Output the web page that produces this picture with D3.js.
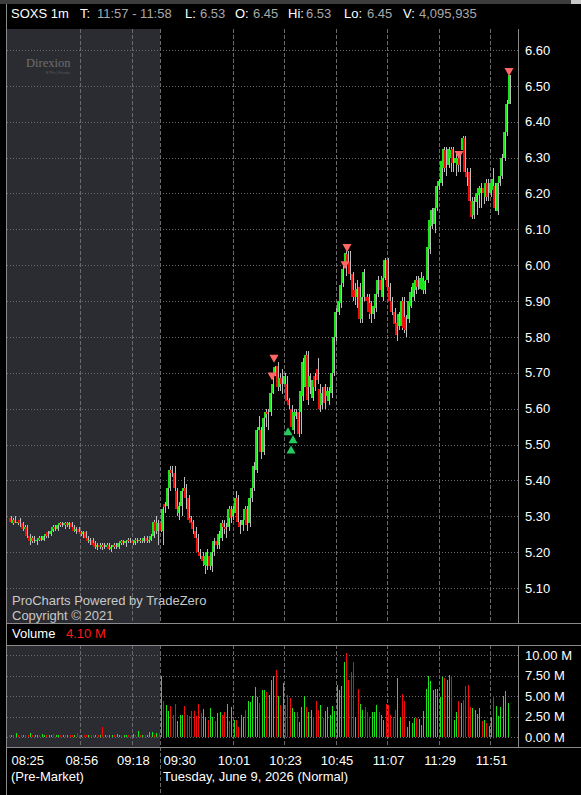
<!DOCTYPE html>
<html lang="en">
<head>
<meta charset="UTF-8">
<title>SOXS 1m</title>
<script src="https://d3js.org/d3.v7.min.js"></script>
<style>
  body { margin: 0; background: #000; overflow: hidden; }
  svg { display: block; font-family: "Liberation Sans", Arial, sans-serif; }
</style>
</head>
<body>
<div id="chart"></div>
<script>
// ---- data ----
const symbol = "SOXS", interval = "1m";
const startTime = "08:25";          // first pre-market bar
const openTime = "09:30";           // regular session start
const dateLabel = "Tuesday, June 9, 2026 (Normal)";

// one row per minute: [open, high, low, close]
const candles = [
  // pre-market 08:25 - 09:29
  [5.295,5.30,5.28,5.285],[5.28,5.295,5.275,5.29],[5.29,5.30,5.28,5.28],[5.28,5.29,5.275,5.285],[5.29,5.295,5.27,5.28],
  [5.28,5.285,5.26,5.265],[5.265,5.275,5.255,5.27],[5.27,5.275,5.24,5.245],[5.245,5.25,5.22,5.23],[5.23,5.245,5.225,5.24],
  [5.24,5.245,5.225,5.23],[5.23,5.24,5.22,5.235],[5.235,5.245,5.23,5.24],[5.24,5.245,5.23,5.235],[5.235,5.25,5.23,5.245],
  [5.245,5.255,5.24,5.25],[5.255,5.26,5.24,5.245],[5.25,5.265,5.245,5.26],[5.26,5.275,5.255,5.27],[5.27,5.275,5.26,5.265],
  [5.265,5.28,5.26,5.275],[5.275,5.285,5.27,5.28],[5.28,5.285,5.27,5.275],[5.275,5.285,5.265,5.28],[5.28,5.285,5.27,5.275],
  [5.275,5.285,5.265,5.28],[5.28,5.285,5.265,5.27],[5.27,5.275,5.255,5.26],[5.26,5.27,5.25,5.265],[5.265,5.27,5.25,5.255],
  [5.255,5.26,5.245,5.25],[5.25,5.26,5.24,5.255],[5.255,5.26,5.235,5.24],[5.24,5.245,5.225,5.23],[5.23,5.24,5.22,5.235],
  [5.235,5.24,5.215,5.22],[5.225,5.23,5.21,5.215],[5.215,5.225,5.205,5.22],[5.22,5.225,5.21,5.215],[5.215,5.225,5.205,5.22],
  [5.22,5.225,5.21,5.215],[5.215,5.225,5.21,5.22],[5.22,5.225,5.205,5.21],[5.21,5.22,5.20,5.215],[5.215,5.225,5.21,5.22],
  [5.22,5.225,5.21,5.215],[5.215,5.23,5.21,5.225],[5.225,5.235,5.22,5.23],[5.23,5.235,5.22,5.225],[5.225,5.235,5.215,5.23],
  [5.23,5.24,5.225,5.235],[5.235,5.24,5.225,5.23],[5.23,5.235,5.22,5.225],[5.225,5.24,5.22,5.235],[5.235,5.24,5.225,5.23],
  [5.23,5.24,5.225,5.235],[5.235,5.24,5.225,5.23],[5.23,5.245,5.225,5.24],[5.24,5.245,5.225,5.23],[5.23,5.24,5.225,5.235],
  [5.235,5.25,5.23,5.245],[5.245,5.29,5.24,5.285],[5.285,5.30,5.25,5.26],[5.26,5.29,5.22,5.28],[5.28,5.285,5.255,5.26],
  // regular session 09:30 -
  [5.26,5.33,5.22,5.32],[5.335,5.34,5.31,5.325],[5.33,5.39,5.32,5.38],[5.38,5.44,5.37,5.43],[5.43,5.44,5.41,5.42],
  [5.42,5.44,5.36,5.38],[5.37,5.38,5.30,5.32],[5.31,5.34,5.29,5.33],[5.33,5.38,5.30,5.37],[5.37,5.41,5.36,5.38],
  [5.38,5.39,5.32,5.35],[5.35,5.36,5.28,5.29],[5.295,5.30,5.27,5.28],[5.285,5.29,5.25,5.265],[5.26,5.27,5.22,5.24],
  [5.24,5.25,5.19,5.20],[5.20,5.21,5.18,5.19],[5.19,5.20,5.16,5.175],[5.165,5.20,5.14,5.19],[5.16,5.21,5.15,5.20],
  [5.19,5.20,5.15,5.16],[5.16,5.21,5.145,5.20],[5.20,5.24,5.19,5.23],[5.23,5.24,5.21,5.22],[5.22,5.26,5.21,5.25],
  [5.24,5.29,5.23,5.28],[5.28,5.29,5.25,5.27],[5.27,5.28,5.24,5.265],[5.27,5.33,5.26,5.32],[5.32,5.33,5.28,5.295],
  [5.30,5.33,5.29,5.32],[5.31,5.37,5.30,5.35],[5.35,5.36,5.27,5.285],[5.285,5.29,5.25,5.27],[5.275,5.30,5.26,5.29],
  [5.29,5.33,5.28,5.32],[5.32,5.33,5.26,5.275],[5.28,5.36,5.27,5.35],[5.35,5.39,5.34,5.38],[5.38,5.45,5.37,5.44],
  [5.43,5.55,5.42,5.54],[5.54,5.58,5.53,5.55],[5.54,5.55,5.46,5.48],[5.48,5.59,5.47,5.575],[5.575,5.60,5.55,5.59],
  [5.59,5.60,5.54,5.585],[5.59,5.65,5.58,5.645],[5.645,5.69,5.64,5.67],[5.695,5.72,5.69,5.715],[5.72,5.73,5.65,5.66],
  [5.66,5.70,5.65,5.685],[5.685,5.71,5.64,5.67],[5.67,5.70,5.66,5.69],[5.67,5.69,5.61,5.62],[5.625,5.63,5.60,5.61],
  [5.60,5.61,5.54,5.55],[5.54,5.60,5.53,5.59],[5.58,5.60,5.57,5.59],[5.59,5.60,5.52,5.53],[5.59,5.66,5.53,5.65],
  [5.635,5.74,5.62,5.73],[5.66,5.76,5.65,5.75],[5.75,5.76,5.61,5.625],[5.66,5.70,5.64,5.69],[5.63,5.69,5.62,5.68],
  [5.69,5.70,5.65,5.66],[5.71,5.74,5.67,5.68],[5.655,5.67,5.59,5.60],[5.61,5.66,5.60,5.645],[5.66,5.67,5.60,5.615],
  [5.635,5.66,5.62,5.65],[5.62,5.66,5.61,5.65],[5.645,5.71,5.63,5.70],[5.70,5.81,5.69,5.80],[5.80,5.88,5.79,5.87],
  [5.87,5.91,5.86,5.90],[5.895,5.95,5.88,5.945],[5.95,6.00,5.94,5.99],[6.01,6.04,5.97,6.035],[6.03,6.04,6.00,6.01],
  [6.01,6.04,5.96,5.975],[5.975,5.98,5.90,5.91],[5.93,5.95,5.89,5.91],[5.91,5.96,5.88,5.935],[5.94,5.95,5.84,5.85],
  [5.85,5.93,5.84,5.91],[5.91,5.99,5.90,5.98],[5.91,5.92,5.88,5.90],[5.91,5.92,5.85,5.87],[5.895,5.90,5.84,5.865],
  [5.865,5.89,5.85,5.885],[5.88,5.93,5.87,5.92],[5.92,5.97,5.91,5.96],[5.96,5.97,5.92,5.93],[5.91,5.97,5.90,5.965],
  [5.965,6.02,5.96,6.015],[6.015,6.02,5.93,5.94],[5.94,5.95,5.89,5.90],[5.90,5.91,5.86,5.87],[5.87,5.88,5.82,5.835],
  [5.84,5.85,5.79,5.805],[5.83,5.87,5.82,5.865],[5.83,5.91,5.82,5.90],[5.90,5.91,5.81,5.825],[5.855,5.86,5.80,5.82],
  [5.85,5.91,5.84,5.90],[5.885,5.94,5.88,5.925],[5.91,5.96,5.90,5.95],[5.93,5.97,5.92,5.96],[5.96,5.97,5.93,5.94],
  [5.935,5.98,5.93,5.965],[5.93,5.97,5.92,5.965],[5.93,5.96,5.92,5.955],[5.96,6.06,5.95,6.05],[6.045,6.13,6.03,6.125],
  [6.11,6.16,6.10,6.155],[6.115,6.17,6.09,6.16],[6.16,6.23,6.15,6.22],
  [6.22,6.24,6.21,6.235],[6.23,6.30,6.22,6.29],[6.27,6.33,6.26,6.325],[6.32,6.33,6.25,6.27],[6.28,6.33,6.27,6.325],
  [6.30,6.33,6.26,6.32],[6.325,6.33,6.26,6.285],[6.285,6.31,6.25,6.30],[6.28,6.31,6.26,6.30],[6.30,6.31,6.26,6.28],
  [6.32,6.36,6.29,6.355],[6.355,6.36,6.25,6.26],[6.26,6.27,6.22,6.245],[6.26,6.27,6.16,6.18],[6.18,6.19,6.13,6.135],
  [6.14,6.19,6.13,6.18],[6.175,6.21,6.14,6.20],[6.195,6.22,6.16,6.215],[6.20,6.23,6.16,6.215],[6.215,6.23,6.17,6.20],
  [6.19,6.24,6.18,6.23],[6.23,6.24,6.18,6.19],[6.20,6.24,6.19,6.23],[6.21,6.27,6.20,6.24],[6.22,6.23,6.15,6.16],
  [6.15,6.24,6.14,6.23],[6.23,6.26,6.22,6.25],[6.25,6.31,6.24,6.30],[6.30,6.38,6.29,6.37],[6.37,6.46,6.36,6.45],
  [6.45,6.53,6.45,6.53]
];

// volume per minute, millions of shares
const volumes = [
  0.25,0.3,0.2,0.5,0.25,0.2,0.3,0.25,0.2,0.45, 0.25,0.2,0.3,0.25,0.35,0.2,0.25,0.3,0.2,0.35,
  0.25,0.3,0.2,0.25,0.3,0.2,0.25,0.3,0.2,0.45, 0.25,0.2,0.3,0.25,0.2,0.3,0.25,0.2,0.3,0.25,
  1.25,0.3,0.2,0.25,0.3,0.2,0.35,0.25,0.2,0.3, 0.25,0.3,0.2,0.35,0.25,0.7,0.3,0.2,0.25,0.3,
  0.55,0.6,0.3,0.5,0.45,
  7.45,4.41,3.93,3.12,3.72,2.71,4.0,1.9,2.71,2.71, 3.8,2.7,2.6,3.2,3.2,2.6,4.05,2.9,3.4,2.5,
  2.1,3.5,2.4,1.9,2.9,3.0,2.7,3.0,4.05,2.0, 3.6,2.1,2.1,1.2,2.7,2.4,3.3,4.4,4.3,5.0,
  6.1,4.9,4.1,5.7,5.7,5.5,5.1,6.9,7.45,8.2, 5.0,3.9,6.6,3.9,5.1,4.7,3.5,3.1,3.1,1.8,
  3.7,5.0,3.7,3.1,3.3,2.5,4.4,3.3,3.9,2.3, 3.2,3.7,2.7,3.8,3.2,6.4,5.7,6.2,9.2,10.3,
  7.0,7.9,9.1,2.5,5.9,4.0,3.3,3.7,3.1,2.5, 3.1,3.1,3.9,3.1,2.7,2.1,4.0,3.9,2.7,2.5,
  3.3,7.2,2.5,5.3,4.4,1.2,1.9,1.7,2.3,2.3, 2.2,1.5,3.2,5.8,7.45,6.8,5.7,5.9,5.9,4.9,
  7.3,7.2,7.0,7.6,7.45,2.1,3.1,4.4,4.2,4.5, 6.2,6.4,3.6,3.5,3.3,2.8,3.5,1.9,2.1,1.7,
  1.3,2.5,5.0,3.8,2.6,3.6,5.0,5.6,4.095935
];

const priceTicks = [6.60,6.50,6.40,6.30,6.20,6.10,6.00,5.90,5.80,5.70,5.60,5.50,5.40,5.30,5.20,5.10];
const volumeTicks = [0, 2.5, 5, 7.5, 10];
const timeTicks = ["08:25","08:56","09:18","09:30","10:01","10:23","10:45","11:07","11:29","11:51"];

// alert markers: time, price, direction
const markerTimes = ["10:18","10:17","10:24","10:26","10:25","10:49","10:48","11:37","11:58"];
const markerPrices = [5.739, 5.690, 5.537, 5.515, 5.486, 6.048, 6.000, 6.307, 6.539];
const markerDirs = ["down","down","up","up","up","down","down","down","down"];

// ---- layout ----
const W = 581, H = 795;
const left = 7, right = 518;
const pTop = 29, pBottom = 624, vTop = 645, vBottom = 747;
const green = "#19e619", red = "#f50a0a", wickColor = "#bdbdbd";
const gridColor = "#6a6a6a", shade = "#2b2c31";

const toMin = s => { const [h, m] = s.split(":").map(Number); return h * 60 + m; };
const pad2 = d3.format("02");
const fmt = m => pad2(Math.floor(m / 60)) + ":" + pad2(m % 60);

const t0 = toMin(startTime);
const data = candles.map((d, i) => ({ t: t0 + i, o: d[0], h: d[1], l: d[2], c: d[3], v: volumes[i] }));
const last = data[data.length - 1];

const x = d3.scaleLinear().domain([t0, last.t]).range([8.8, 507.5]);
const y = d3.scaleLinear().domain([5.10, 6.60]).range([588, 50]);
const yv = d3.scaleLinear().domain([0, 10]).range([737, 655]);
const px = t => Math.round(x(t));

const svg = d3.select("#chart").append("svg").attr("width", W).attr("height", H);
svg.append("rect").attr("width", W).attr("height", H).attr("fill", "#000");

// top strip
svg.append("rect").attr("width", W).attr("height", 4).attr("fill", "#3c3c3c");
svg.append("rect").attr("x", 571).attr("width", 10).attr("height", 4).attr("fill", "#c8c8c8");

// header
const hdr = svg.append("text").attr("y", 18).attr("font-size", 13);
const hdrParts = [
  [symbol + " " + interval, "#fff"],
  ["T:", "#fff"], [fmt(last.t - 1) + " - " + fmt(last.t), "#a8a8a8"],
  ["L:", "#fff"], [last.c.toFixed(2), "#a8a8a8"],
  ["O:", "#fff"], [last.o.toFixed(2), "#a8a8a8"],
  ["Hi:", "#fff"], [last.h.toFixed(2), "#a8a8a8"],
  ["Lo:", "#fff"], [last.l.toFixed(2), "#a8a8a8"],
  ["V:", "#fff"], [d3.format(",")(Math.round(last.v * 1e6)), "#a8a8a8"]
];
const hdrX = [11, 80, 97, 185, 200, 235, 253, 288, 306, 344, 367, 403, 419];
hdr.selectAll("tspan").data(hdrParts).join("tspan")
  .attr("x", (d, i) => hdrX[i]).attr("fill", d => d[1]).text(d => d[0]);

// pre-market shading
const xOpen = px(toMin(openTime)) - 1;
[[pTop, pBottom], [vTop, vBottom]].forEach(([a, b]) => {
  svg.append("rect").attr("x", left).attr("y", a).attr("width", xOpen - left).attr("height", b - a).attr("fill", shade);
});

// horizontal grids (dotted)
svg.append("g").selectAll("line").data(priceTicks).join("line")
  .attr("x1", left).attr("x2", right)
  .attr("y1", d => Math.round(y(d)) + 0.5).attr("y2", d => Math.round(y(d)) + 0.5)
  .attr("stroke", gridColor).attr("stroke-dasharray", "1,2");
svg.append("g").selectAll("line").data(volumeTicks).join("line")
  .attr("x1", left).attr("x2", right)
  .attr("y1", d => Math.round(yv(d)) + 0.5).attr("y2", d => Math.round(yv(d)) + 0.5)
  .attr("stroke", gridColor).attr("stroke-dasharray", "1,2");

// vertical grids (dashed)
const vTicks = timeTicks.map(toMin).filter(t => t !== t0);
const gx = svg.append("g");
[[pTop, pBottom], [vTop, vBottom]].forEach(([a, b]) => {
  gx.append("g").selectAll("line").data(vTicks).join("line")
    .attr("x1", t => px(t) - 0.5).attr("x2", t => px(t) - 0.5)
    .attr("y1", a).attr("y2", b)
    .attr("stroke", gridColor).attr("stroke-dasharray", "4,2");
});
gx.append("line").attr("x1", xOpen + 0.5).attr("x2", xOpen + 0.5).attr("y1", vBottom).attr("y2", H)
  .attr("stroke", gridColor).attr("stroke-dasharray", "4,2");

// logo
svg.append("text").attr("x", 26).attr("y", 67).attr("font-family", "'Liberation Serif', serif")
  .attr("font-size", 12.5).attr("fill", "#6e6e6e").text("Direxion");
svg.append("text").attr("x", 46).attr("y", 74).attr("font-size", 4).attr("fill", "#5a5a5a").text("ETFs | Funds");

// candles
const cg = svg.append("g").selectAll("g").data(data).join("g");
cg.append("rect")
  .attr("x", d => px(d.t) + 2).attr("width", 1)
  .attr("y", d => Math.round(y(d.h)))
  .attr("height", d => Math.max(1, Math.round(y(d.l)) - Math.round(y(d.h))))
  .attr("fill", wickColor);
cg.append("rect")
  .attr("x", d => px(d.t)).attr("width", 2)
  .attr("y", d => Math.round(y(Math.max(d.o, d.c))))
  .attr("height", d => Math.max(1, Math.round(y(Math.min(d.o, d.c))) - Math.round(y(Math.max(d.o, d.c)))))
  .attr("fill", d => d.c >= d.o ? green : red);

// markers
const markers = markerTimes.map((t, i) => ({ t: toMin(t), p: markerPrices[i], dir: markerDirs[i] }));
svg.append("g").selectAll("path").data(markers).join("path")
  .attr("d", d => {
    const cx = px(d.t) + 1, cy = y(d.p);
    return d.dir === "down"
      ? `M${cx - 4.5},${cy - 4}L${cx + 4.5},${cy - 4}L${cx},${cy + 4}Z`
      : `M${cx - 4.5},${cy + 4}L${cx + 4.5},${cy + 4}L${cx},${cy - 4}Z`;
  })
  .attr("fill", d => d.dir === "down" ? "#ff6666" : "#22cc5e");

// volume bars
svg.append("g").selectAll("rect").data(data).join("rect")
  .attr("x", d => px(d.t)).attr("width", 1)
  .attr("y", d => Math.round(yv(d.v)))
  .attr("height", d => Math.max(1, Math.round(yv(0)) - Math.round(yv(d.v))))
  .attr("fill", d => d.c >= d.o ? green : red);

// frame lines
const frame = svg.append("g").attr("stroke", "#8a8a8a");
frame.append("line").attr("x1", left - 0.5).attr("x2", left - 0.5).attr("y1", 4).attr("y2", H);
frame.append("line").attr("x1", right + 0.5).attr("x2", right + 0.5).attr("y1", pTop).attr("y2", pBottom);
frame.append("line").attr("x1", right + 0.5).attr("x2", right + 0.5).attr("y1", vTop).attr("y2", vBottom);
[pBottom - 0.5, vTop + 0.5, vBottom + 0.5].forEach(v =>
  frame.append("line").attr("x1", left).attr("x2", W).attr("y1", v).attr("y2", v));

// price axis
const pAxis = svg.append("g").attr("transform", `translate(${right},0)`)
  .call(d3.axisRight(y).tickValues(priceTicks).tickFormat(d3.format(".2f")).tickSize(0).tickPadding(7));
pAxis.select(".domain").remove();
pAxis.selectAll("text").attr("fill", "#fff").attr("font-size", 13).attr("font-family", "'Liberation Sans', Arial, sans-serif");

// volume axis
const vAxis = svg.append("g").attr("transform", `translate(${right},0)`)
  .call(d3.axisRight(yv).tickValues(volumeTicks).tickFormat(d => d3.format(".2f")(d) + " M").tickSize(0).tickPadding(7));
vAxis.select(".domain").remove();
vAxis.selectAll("text").attr("fill", "#fff").attr("font-size", 13).attr("font-family", "'Liberation Sans', Arial, sans-serif");

// time axis
const tAxis = svg.append("g").attr("transform", `translate(0,${vBottom})`)
  .call(d3.axisBottom(x).tickValues(timeTicks.map(toMin)).tickFormat(fmt).tickSize(0).tickPadding(9));
tAxis.select(".domain").remove();
tAxis.selectAll("text").attr("fill", "#fff").attr("font-size", 13).attr("font-family", "'Liberation Sans', Arial, sans-serif");
tAxis.selectAll(".tick")
  .filter(t => t === t0 || t === toMin(openTime))
  .select("text").attr("text-anchor", "start")
  .attr("x", t => (t === t0 ? 11 : xOpen + 3) - x(t));

svg.append("text").attr("x", 11).attr("y", 781).attr("font-size", 13).attr("fill", "#fff").text("(Pre-Market)");
svg.append("text").attr("x", xOpen + 3).attr("y", 781).attr("font-size", 13).attr("fill", "#fff").text(dateLabel);

// branding
svg.append("text").attr("x", 12).attr("y", 605).attr("font-size", 13).attr("fill", "#c8c8c8").text("ProCharts Powered by TradeZero");
svg.append("text").attr("x", 12).attr("y", 620).attr("font-size", 13).attr("fill", "#c8c8c8").text("Copyright \u00a9 2021");

// volume label
const vl = svg.append("text").attr("x", 12).attr("y", 638).attr("font-size", 13);
vl.append("tspan").attr("fill", "#fff").text("Volume");
vl.append("tspan").attr("x", 66).attr("fill", "#ff1a1a").text(last.v.toFixed(2) + " M");
</script>
</body>
</html>
